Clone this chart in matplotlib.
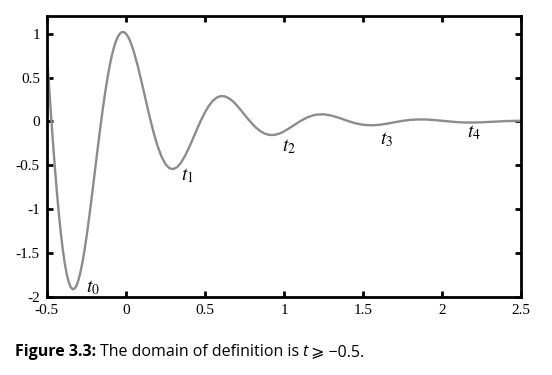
import matplotlib
matplotlib.use("Agg")
import matplotlib.pyplot as plt

# curve
t = [-0.5, -0.4875, -0.475, -0.4625, -0.45, -0.4375, -0.425, -0.4125, -0.4, -0.3875,
     -0.375, -0.3625, -0.35, -0.3375, -0.325, -0.3125, -0.3, -0.2875, -0.275, -0.2625,
     -0.25, -0.2375, -0.225, -0.2125, -0.2, -0.1875, -0.175, -0.1625, -0.15, -0.1375,
     -0.125, -0.1125, -0.1, -0.0875, -0.075, -0.0625, -0.05, -0.0375, -0.025, -0.0125,
     0.0, 0.0125, 0.025, 0.0375, 0.05, 0.075, 0.1, 0.125, 0.15, 0.175, 0.2, 0.225,
     0.25, 0.275, 0.3, 0.325, 0.35, 0.375, 0.4, 0.425, 0.45, 0.475,
     0.5, 0.525, 0.55, 0.575, 0.6, 0.625, 0.65, 0.675, 0.7, 0.725,
     0.75, 0.775, 0.8, 0.825, 0.85, 0.875, 0.9, 0.925, 0.95, 0.975,
     1.0, 1.05, 1.1, 1.15, 1.2, 1.25, 1.3, 1.35, 1.4, 1.45,
     1.5, 1.55, 1.6, 1.65, 1.7, 1.75, 1.8, 1.85, 1.9, 1.95,
     2.0, 2.05, 2.1, 2.15, 2.2, 2.25, 2.3, 2.35, 2.4, 2.45, 2.5]
y = [0.771, 0.429, 0.097, -0.220, -0.519, -0.794, -1.044, -1.265, -1.455, -1.613,
     -1.737, -1.828, -1.886, -1.911, -1.904, -1.868, -1.804, -1.714, -1.602, -1.470,
     -1.321, -1.158, -0.985, -0.804, -0.621, -0.436, -0.253, -0.075, 0.096, 0.256,
     0.405, 0.540, 0.660, 0.764, 0.850, 0.919, 0.970, 1.003, 1.019, 1.017,
     1.0, 0.968, 0.922, 0.863, 0.794, 0.630, 0.442, 0.246, 0.052, -0.126, -0.279, -0.401,
     -0.486, -0.533, -0.543, -0.519, -0.465, -0.388, -0.294, -0.191, -0.086, 0.015,
     0.104, 0.179, 0.236, 0.273, 0.289, 0.286, 0.266, 0.232, 0.186, 0.134,
     0.077, 0.022, -0.029, -0.074, -0.110, -0.136, -0.151, -0.155, -0.149, -0.135,
     -0.114, -0.058, 0.001, 0.049, 0.077, 0.082, 0.067, 0.040, 0.008, -0.020,
     -0.038, -0.044, -0.039, -0.026, -0.009, 0.007, 0.018, 0.023, 0.022, 0.016,
     0.008, -0.001, -0.008, -0.012, -0.012, -0.010, -0.005, -0.001, 0.004, 0.006, 0.007]

labels = ["$t_0$", "$t_1$", "$t_2$", "$t_3$", "$t_4$"]
label_x = [-0.21, 0.39, 1.03, 1.65, 2.20]
label_y = [-1.89, -0.62, -0.28, -0.21, -0.13]

xticks = [-0.5, 0, 0.5, 1, 1.5, 2, 2.5]
yticks = [-2, -1.5, -1, -0.5, 0, 0.5, 1]

plt.rcParams["mathtext.fontset"] = "stix"

fig = plt.figure(figsize=(5.52, 3.75), dpi=100)
ax = fig.add_axes([0.085, 0.208, 0.859, 0.749])

ax.plot(t, y, color="#8c8c8c", lw=1.7)
for lab, lx, ly in zip(labels, label_x, label_y):
    ax.text(lx, ly, lab, fontsize=14, ha="center", va="center")

ax.set_xlim(-0.5, 2.5)
ax.set_ylim(-2, 1.2)
ax.set_xticks(xticks)
ax.set_yticks(yticks)
ax.set_xticklabels([f"{v:g}" for v in xticks], family="Liberation Serif", fontsize=11)
ax.set_yticklabels([f"{v:g}" for v in yticks], family="Liberation Serif", fontsize=11)
ax.tick_params(direction="in", top=True, right=True, length=4, width=2, pad=5)
for s in ax.spines.values():
    s.set_linewidth(2)

fams = ["Open Sans", "DejaVu Sans"]
cy = 1 - 352 / 375
fs = 11.5
parts = [("Figure 3.3:", "bold", "normal", 0.007),
         ("The domain of definition is", "normal", "normal", 0.006),
         ("t", "normal", "italic", 0.006),
         ("⩾ −0.5.", "normal", "normal", 0)]
x = 15 / 552
for txt, wt, st, gap in parts:
    tx = fig.text(x, cy, txt, fontsize=fs, weight=wt, style=st, family=fams, va="center")
    fig.canvas.draw()
    x = tx.get_window_extent().x1 / 552 + gap

fig.savefig("out.png", dpi=100)
